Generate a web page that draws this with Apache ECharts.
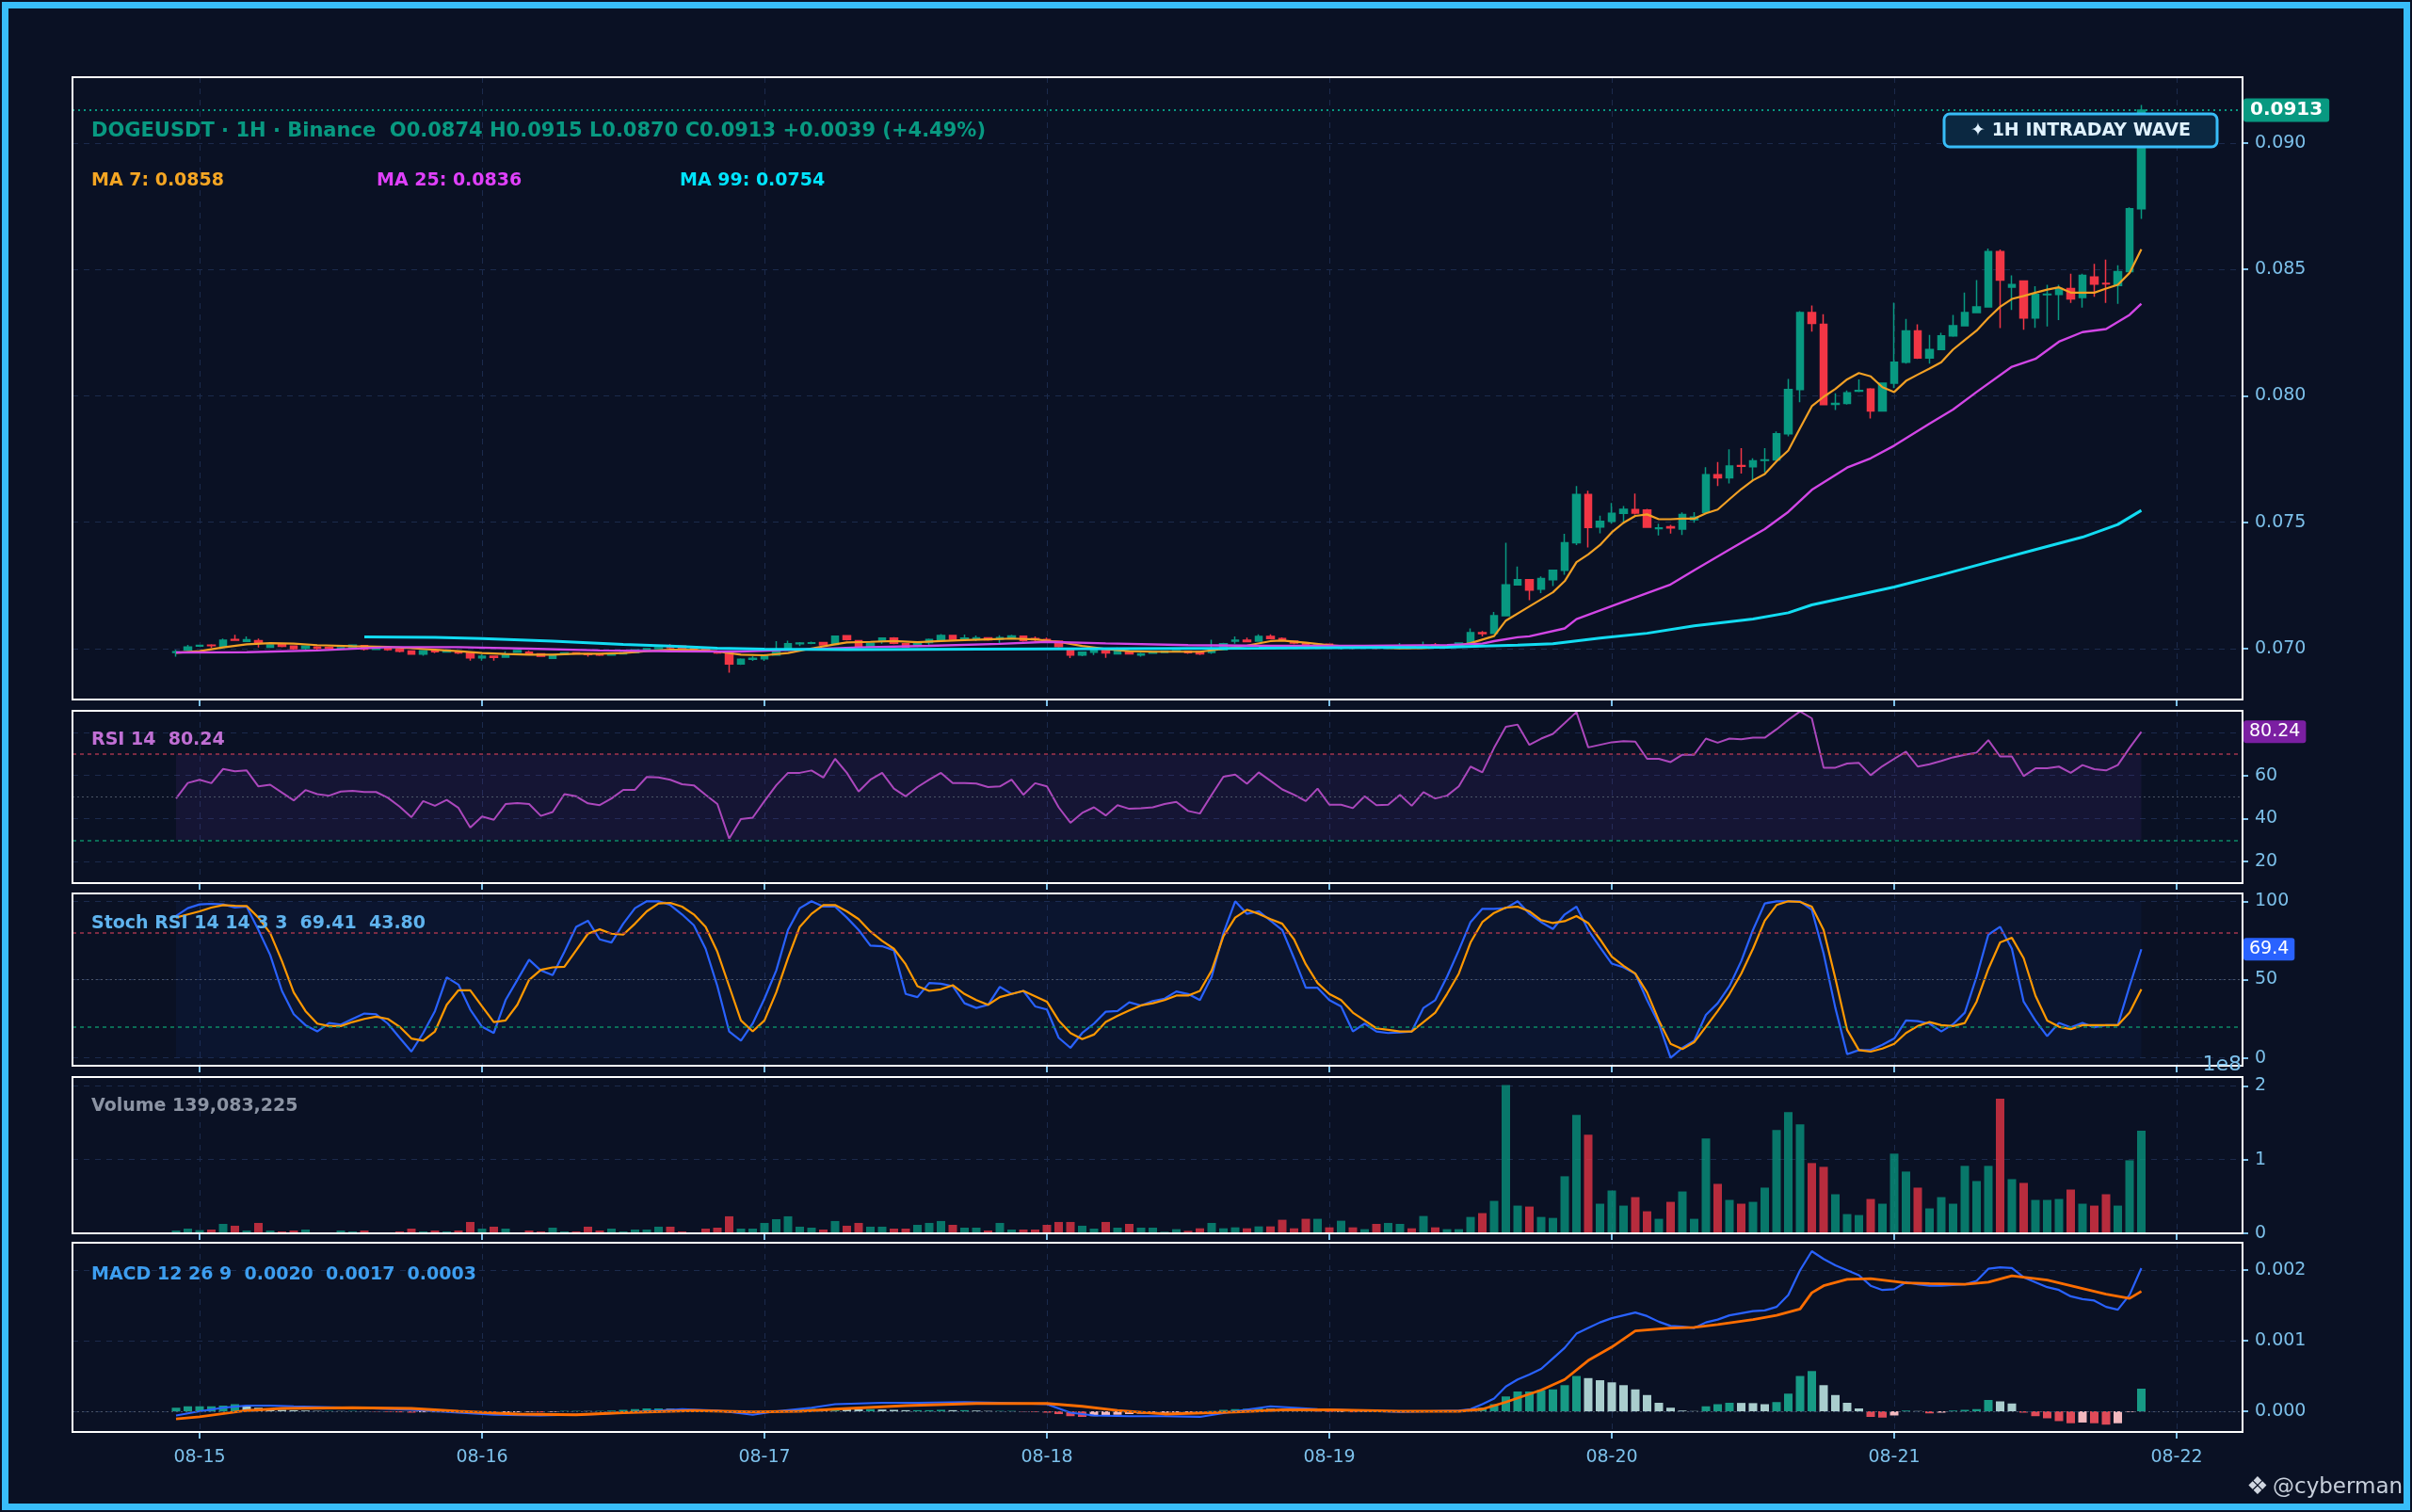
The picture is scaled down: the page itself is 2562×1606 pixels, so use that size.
<!DOCTYPE html>
<html><head><meta charset="utf-8">
<script src="https://cdn.jsdelivr.net/npm/echarts@6.0.0/dist/echarts.min.js"></script>
<style>html,body{margin:0;padding:0;background:#0a1124;}#c{width:2562px;height:1606px;}</style>
</head><body><div id="c"></div>
<script>
// ---------------- DATA ----------------
// hourly candles, first candle = 08-14 22:00 (hour -2 relative to 08-15 00:00)
const START_HOUR = -2;
const dayTicks = [0, 24, 48, 72, 96, 120, 144, 168];
const dayLabels = ['08-15','08-16','08-17','08-18','08-19','08-20','08-21','08-22'];
const priceTicks = [0.070, 0.075, 0.080, 0.085, 0.090];
const rsiTicks = [20, 40, 60, 80];
const stochTicks = [0, 50, 100];
const volTicks = [0, 1e8, 2e8];
const macdTicks = [0, 0.001, 0.002];

// [open, close, low, high]
const candles = [
[0.06985,0.06988,0.06968,0.06995],[0.06995,0.07007,0.06992,0.07015],[0.07010,0.07013,0.07008,0.07016],[0.07014,0.07012,0.07003,0.07018],
[0.07008,0.07034,0.07008,0.07040],[0.07036,0.07034,0.07033,0.07055],[0.07029,0.07035,0.07028,0.07048],[0.07032,0.07021,0.07005,0.07040],
[0.07006,0.07015,0.07003,0.07018],[0.07017,0.07009,0.07006,0.07020],[0.07010,0.07000,0.06996,0.07012],[0.07001,0.07010,0.06996,0.07012],
[0.07007,0.07002,0.06996,0.07010],[0.07005,0.07002,0.06998,0.07008],[0.07000,0.07004,0.06998,0.07007],[0.07003,0.07014,0.07000,0.07016],
[0.07012,0.06998,0.06993,0.07014],[0.06997,0.07001,0.06994,0.07004],[0.07001,0.06996,0.06992,0.07004],[0.06997,0.06990,0.06985,0.06999],
[0.06991,0.06979,0.06977,0.06993],[0.06979,0.06992,0.06972,0.06994],[0.06993,0.06988,0.06982,0.06996],[0.06987,0.06991,0.06984,0.06994],
[0.06990,0.06983,0.06979,0.06992],[0.06983,0.06964,0.06953,0.06985],[0.06964,0.06970,0.06953,0.06978],[0.06970,0.06966,0.06953,0.06972],
[0.06967,0.06976,0.06965,0.06990],[0.06986,0.06993,0.06984,0.06995],[0.06986,0.06980,0.06978,0.06992],[0.06980,0.06970,0.06968,0.06982],
[0.06962,0.06971,0.06959,0.06974],[0.06978,0.06983,0.06976,0.06985],[0.06983,0.06980,0.06977,0.06985],[0.06980,0.06977,0.06968,0.06983],
[0.06978,0.06975,0.06971,0.06981],[0.06975,0.06980,0.06973,0.06982],[0.06980,0.06984,0.06977,0.06986],[0.06984,0.06995,0.06982,0.06997],
[0.06995,0.07000,0.06993,0.07003],[0.07000,0.07004,0.06998,0.07007],[0.07007,0.07004,0.07000,0.07018],[0.07010,0.07002,0.06999,0.07012],
[0.07002,0.06998,0.06995,0.07004],[0.06998,0.06993,0.06990,0.07000],[0.06986,0.06983,0.06980,0.06990],[0.06983,0.06940,0.06905,0.06985],
[0.06940,0.06958,0.06936,0.06962],[0.06958,0.06962,0.06952,0.06970],[0.06960,0.06970,0.06952,0.06972],[0.06975,0.06990,0.06972,0.07030],
[0.06998,0.07020,0.06998,0.07032],[0.07020,0.07022,0.07010,0.07026],[0.07021,0.07023,0.07018,0.07028],[0.07024,0.07015,0.07012,0.07026],
[0.07017,0.07049,0.07015,0.07050],[0.07051,0.07036,0.07033,0.07054],[0.07032,0.07010,0.07005,0.07034],[0.07010,0.07021,0.07008,0.07024],
[0.07030,0.07042,0.07020,0.07045],[0.07042,0.07021,0.07018,0.07046],[0.07020,0.07007,0.07004,0.07022],[0.07010,0.07022,0.07007,0.07025],
[0.07024,0.07036,0.07012,0.07040],[0.07036,0.07052,0.07032,0.07058],[0.07052,0.07037,0.07035,0.07054],[0.07037,0.07042,0.07032,0.07056],
[0.07038,0.07043,0.07030,0.07052],[0.07043,0.07035,0.07032,0.07045],[0.07038,0.07044,0.07020,0.07053],[0.07044,0.07050,0.07040,0.07055],
[0.07049,0.07033,0.07028,0.07052],[0.07040,0.07035,0.07030,0.07048],[0.07036,0.07030,0.07028,0.07044],[0.07030,0.07008,0.07005,0.07033],
[0.07000,0.06975,0.06963,0.07002],[0.06975,0.06986,0.06970,0.06988],[0.06986,0.06998,0.06975,0.07000],[0.06995,0.06983,0.06964,0.06998],
[0.06980,0.06993,0.06978,0.07005],[0.06986,0.06980,0.06977,0.06988],[0.06975,0.06980,0.06968,0.06984],[0.06982,0.06988,0.06980,0.06990],
[0.06985,0.06990,0.06983,0.06992],[0.06988,0.06992,0.06985,0.06994],[0.06990,0.06984,0.06980,0.06993],[0.06988,0.06980,0.06975,0.06990],
[0.06985,0.06995,0.06980,0.07035],[0.06995,0.07020,0.06993,0.07023],[0.07030,0.07034,0.07020,0.07048],[0.07034,0.07028,0.07026,0.07044],
[0.07030,0.07048,0.07028,0.07057],[0.07048,0.07040,0.07038,0.07057],[0.07040,0.07034,0.07030,0.07045],[0.07030,0.07022,0.07018,0.07032],
[0.07022,0.07016,0.07012,0.07024],[0.07014,0.07018,0.07010,0.07021],[0.07018,0.07012,0.07008,0.07020],[0.07005,0.07010,0.06996,0.07012],
[0.07010,0.07003,0.06998,0.07012],[0.07003,0.07008,0.07000,0.07012],[0.07008,0.07002,0.06998,0.07010],[0.07002,0.07006,0.06999,0.07010],
[0.07004,0.07010,0.06998,0.07022],[0.07010,0.07005,0.07002,0.07013],[0.07004,0.07012,0.07000,0.07028],[0.07014,0.07008,0.07004,0.07022],
[0.07008,0.07012,0.07005,0.07015],[0.07012,0.07022,0.07010,0.07025],[0.07022,0.07063,0.07020,0.07080],[0.07063,0.07060,0.07048,0.07070],
[0.07061,0.07130,0.07058,0.07145],[0.07130,0.07252,0.07128,0.07419],[0.07252,0.07273,0.07250,0.07325],[0.07273,0.07232,0.07192,0.07275],
[0.07236,0.07277,0.07220,0.07286],[0.07273,0.07310,0.07248,0.07313],[0.07310,0.07419,0.07292,0.07454],[0.07419,0.07610,0.07410,0.07643],
[0.07610,0.07479,0.07400,0.07625],[0.07481,0.07504,0.07456,0.07526],[0.07504,0.07535,0.07494,0.07576],[0.07535,0.07551,0.07494,0.07564],
[0.07550,0.07536,0.07531,0.07613],[0.07548,0.07480,0.07478,0.07553],[0.07475,0.07478,0.07448,0.07494],[0.07482,0.07478,0.07455,0.07490],
[0.07473,0.07531,0.07450,0.07539],[0.07510,0.07520,0.07498,0.07540],[0.07539,0.07688,0.07535,0.07718],[0.07688,0.07676,0.07643,0.07738],
[0.07676,0.07722,0.07653,0.07788],[0.07724,0.07721,0.07693,0.07793],[0.07720,0.07743,0.07666,0.07753],[0.07745,0.07747,0.07697,0.07793],
[0.07747,0.07850,0.07743,0.07859],[0.07850,0.08025,0.07840,0.08067],[0.08025,0.08329,0.07975,0.08335],[0.08329,0.08286,0.08254,0.08357],
[0.08283,0.07965,0.07965,0.08323],[0.07966,0.07970,0.07944,0.08010],[0.07970,0.08012,0.07965,0.08021],[0.08018,0.08021,0.08015,0.08065],
[0.08027,0.07940,0.07910,0.08030],[0.07940,0.08050,0.07938,0.08052],[0.08050,0.08133,0.08030,0.08368],[0.08133,0.08257,0.08127,0.08304],
[0.08257,0.08150,0.08146,0.08283],[0.08150,0.08183,0.08127,0.08241],[0.08183,0.08237,0.08180,0.08249],[0.08237,0.08277,0.08233,0.08320],
[0.08277,0.08329,0.08277,0.08408],[0.08329,0.08352,0.08327,0.08458],[0.08352,0.08570,0.08349,0.08582],[0.08570,0.08458,0.08268,0.08579],
[0.08430,0.08440,0.08339,0.08476],[0.08454,0.08308,0.08261,0.08454],[0.08308,0.08401,0.08269,0.08433],[0.08400,0.08402,0.08274,0.08439],
[0.08401,0.08424,0.08299,0.08439],[0.08424,0.08383,0.08367,0.08483],[0.08389,0.08476,0.08349,0.08483],[0.08470,0.08442,0.08392,0.08522],
[0.08445,0.08443,0.08367,0.08539],[0.08436,0.08491,0.08364,0.08516],[0.08491,0.08740,0.08491,0.08745],[0.08740,0.09130,0.08700,0.09150]
];

// volume in millions (hourly, same order as candles)
const volumeM = [
3.8,6.4,4.3,5.1,12.8,10.3,3.8,14.1,3.8,2.6,3.8,5.1,1.3,1.3,3.8,2.6,3.8,1.3,1.3,2.6,6.4,2.6,3.8,2.6,3.8,15.4,6.4,9.0,6.4,1.3,
3.8,2.6,7.7,2.6,2.6,9.0,3.8,6.4,2.6,5.1,5.1,9.0,9.0,2.6,1.3,6.4,7.7,23.1,6.4,6.4,14.1,19.2,23.1,9.0,7.7,5.1,16.7,10.3,14.1,9.0,
9.0,6.4,6.4,11.5,14.1,16.7,11.5,7.7,7.7,3.8,14.1,5.1,5.1,5.1,11.5,15.4,15.4,10.3,6.4,15.4,7.7,12.8,7.7,7.7,
2.1,5.6,3.4,6.8,14.1,6.8,8.1,6.8,9.4,9.4,18.4,6.8,19.7,19.7,8.1,17.1,8.1,5.6,12.8,14.1,12.8,6.8,23.5,8.1,5.6,5.6,
22.2,27.4,44.0,201.3,37.6,36.3,22.2,20.9,77.4,160.7,133.8,40.2,58.1,37.6,49.1,29.9,19.7,42.7,56.8,19.7,
128.6,67.1,45.3,40.2,42.7,62.0,140.2,164.5,147.9,95.3,90.2,53.0,26.1,24.8,46.6,40.2,108.1,83.8,62.0,33.8,
49.1,40.2,91.5,70.9,91.5,182.5,73.5,68.4,45.3,45.3,46.6,59.4,40.2,37.6,53.0,37.6,99.1,139.083225
];

// moving averages as [hour, value] vertices
const ma7 = [[-2,.06984],[0,.0699],[2,.07005],[4,.07017],[6,.07022],[8,.0702],[10,.07014],[13,.0701],[16,.07007],[18,.07002],[20,.06996],[22,.0699],[24,.06983],[26,.06979],[28,.06976],[30,.06976],[32,.0698],[34,.0698],[36,.06983],[38,.0699],[40,.06996],[42,.06995],[44,.06989],[46,.06976],[48,.06974],[50,.06983],[52,.07001],[54,.07017],[55,.07025],[57,.07027],[59,.0703],[61,.07026],[63,.0703],[65,.07034],[67,.07037],[69,.0704],[71,.07037],[73,.07027],[75,.07011],[77,.06999],[79,.0699],[81,.06988],[83,.06988],[85,.06988],[87,.06999],[89,.07012],[91,.0703],[92,.07032],[94,.07024],[96,.07014],[98,.07007],[100,.07005],[102,.07001],[104,.07002],[106,.07007],[107,.07013],[108,.07022],[109,.07036],[110,.0705],[111,.07111],[113,.07167],[115,.07223],[116,.07267],[117,.07342],[118,.07373],[119,.0741],[120,.0746],[121,.07498],[122,.07525],[123,.07531],[124,.07512],[125,.07512],[126,.07514],[127,.07514],[128,.07535],[129,.0755],[130,.07591],[131,.07631],[132,.07666],[133,.07691],[134,.07741],[135,.07784],[136,.07872],[137,.07959],[138,.07996],[139,.08027],[140,.08065],[141,.0809],[142,.08077],[143,.08034],[144,.08015],[145,.08059],[146,.08084],[147,.08108],[148,.08133],[149,.08183],[150,.08221],[151,.08258],[152,.08308],[153,.08352],[154,.08383],[155,.08395],[156,.08408],[157,.0842],[158,.08429],[159,.08408],[160,.08408],[161,.08408],[162,.08424],[163,.08439],[164,.08486],[165,.0858]];
const ma25 = [[-2,.06985],[4,.06986],[10,.06993],[16,.07006],[22,.07006],[28,.07],[34,.06993],[40,.0699],[46,.06989],[50,.06995],[56,.07005],[62,.07011],[68,.07019],[72,.07027],[77,.07021],[84,.07014],[91,.07011],[99,.07011],[106,.07014],[109,.0702],[110,.0703],[112,.07045],[113,.07049],[116,.0708],[117,.07117],[121,.07186],[125,.07254],[127,.0731],[130,.07392],[133,.07473],[135,.07541],[137,.07628],[140,.07716],[142,.07753],[144,.07803],[147,.0789],[149,.07946],[151,.08015],[154,.08115],[156,.08146],[158,.08214],[160,.08252],[162,.08264],[164,.0832],[165,.08364]];
const ma99 = [[14,.07047],[20,.07045],[24,.0704],[30,.0703],[36,.07017],[40,.0701],[44,.07002],[48,.06998],[55,.06996],[72,.06999],[90,.07002],[100,.07005],[106,.07006],[109,.0701],[112,.07014],[115,.0702],[119,.07042],[123,.07061],[127,.0709],[132,.07117],[135,.07142],[137,.07173],[144,.07244],[148,.07292],[152,.07342],[156,.07392],[160,.07441],[163,.07491],[165,.07547]];

// RSI 14 (hourly)
const rsi = [49.3,56.5,58,56.4,63,61.9,62.3,54.9,55.7,52,48.4,53.2,51.3,50.6,52.5,52.8,52.3,52.3,49.6,45.5,40.6,48.1,45.9,48.6,44.9,35.8,40.9,39.4,46.7,47.2,46.7,41.2,43,51.3,50.3,47,46.2,49.3,53.3,53.3,59.3,59.1,58,55.9,55.4,51,46.7,30.7,39.7,40.4,48.1,55.4,61.2,61.2,62.3,59,67.7,61.2,52.5,58,61.2,53.9,50.3,54.6,58,61.2,56.4,56.5,56.2,54.6,54.9,58,51,56.4,54.9,45.2,38,42.6,45.2,41.4,46.2,44.5,44.8,45.2,
46.7,47.7,43.5,42.3,51,59.4,60.4,56.1,61.4,57.5,53.5,51,48.1,53.9,46.4,46.4,44.8,50.3,46.2,46.4,51,45.9,52.2,49.3,50.6,54.9,64.1,61.4,72.8,82.6,83.6,74.2,77.1,79.3,84.3,89.4,73,74.2,75.4,75.9,75.7,67.7,67.7,66.2,69.6,69.6,77.1,75.2,77.1,76.8,77.5,77.5,81.4,85.8,89.7,86.5,63.6,63.6,65.5,65.8,60.1,64.3,67.7,71,64.1,65.2,66.7,68.4,69.6,70.6,76.4,68.8,68.8,59.7,63.3,63.3,64.1,61.2,64.8,62.9,62.3,64.8,72.8,80.24];

// Stoch RSI 14 14 3 3  (K and D, hourly)
const stochK = [90.6,95.6,98,98.4,98,96,96.6,81.7,65.7,42.8,27.9,20.9,16.9,22.3,21.3,24.9,28.3,27.9,21.9,12.9,4,15.9,29.9,51.4,46.8,30.9,19.9,15.9,36.9,49.8,62.7,55.8,52.8,67.7,83.7,87.6,75.7,73.7,85.7,95.6,100,100,97.6,91.6,84.7,69.7,45.8,16.9,11,21.9,37.8,55.8,81.7,95.6,100,96.6,96.6,89.6,81.7,71.7,71.3,68.7,40.8,38.8,47.8,47.4,45.8,34.9,31.9,33.9,45.4,40.8,42.8,32.9,30.9,12.9,6.4,15.9,21.9,29.5,29.9,35.5,33.5,36.3,
37.8,42.4,40.8,36.9,51.8,79.7,100,92,93.6,87.6,81.7,63.7,44.8,44.8,36.9,32.9,16.9,21.9,16.9,15.9,16.3,16.9,31.9,36.9,51.8,68.7,86.7,95.2,95.2,95.6,100,92,86.7,82.3,91.6,96.6,81.7,70.7,60.2,57.8,53.8,36.9,21.9,0,6.4,11,27.5,34.9,45.8,61.8,81.7,98.6,100,100,100,94.6,66.7,31.9,2.4,5,5,8.4,12.4,23.9,23.5,21.9,16.9,21.5,28.9,51.8,78.7,83.7,69.7,35.9,23.9,13.9,22.3,19.5,22.3,19.5,20.9,20.9,45.8,69.41];
const stochD = [89.6,91.6,93.6,96,97.6,97.2,97,89.6,79.7,61.8,41.8,29.9,21.9,20.3,20.3,22.9,24.9,26.3,24.9,19.9,12.4,11,16.9,33.9,43.2,43.2,32.9,22.9,23.9,33.9,49.8,56.2,57.8,58.2,68.7,79.3,82.1,79.3,78.7,85.7,93.6,98.6,99,96.6,91.6,83.7,67.7,45.8,23.9,16.9,23.9,41.8,63.7,83.7,92,97.6,97.6,93.6,88.6,80.7,74.7,69.7,59.8,45.8,42.8,43.8,46.4,40.8,36.9,33.9,38.8,40.8,42.8,39.4,35.9,23.9,15.9,12,14.9,22.9,26.9,30.3,33.5,34.9,
36.9,39.8,39.8,42.8,55.8,77.7,89.6,94.6,92,88.6,85.7,75.7,59.8,47.8,40.8,36.9,28.9,23.9,18.9,17.9,16.9,16.9,22.9,28.9,40.8,53.8,73.7,86.7,92.6,96,96.6,93.6,88,86.1,87.3,90.6,86.1,75.7,64.7,58.8,53.8,41.8,23.9,9,5.6,10,19.9,29.9,40.8,53.8,69.7,87.6,97.6,100,99.6,96.6,81.7,50.8,17.9,5,4,6,9,15.9,20.3,22.9,20.9,20.3,22.3,35.9,56.8,73.7,76.7,63.7,39.8,23.9,19.9,18.3,20.9,20.9,20.9,20.9,28.9,43.80];

// MACD 12 26 9 : line and signal as [hour, value] vertices, histogram hourly (x1e-5)
const macdLine = [[-2,-0.00006],[0,0],[2,0.00005],[4,0.00008],[6,0.00008],[8,0.00007],[13,0.00005],[18,0.00002],[22,-0.00002],[25,-0.00005],[29,-0.00006],[34,-0.00004],[38,0],[41,0.00003],[44,0.00001],[46,-0.00003],[47,-0.00005],[49,0],[52,0.00005],[54,0.0001],[58,0.00012],[61,0.00012],[65,0.00013],[68,0.00012],[72,0.0001],[73,0.00004],[74,-0.00002],[76,-0.00006],[79,-0.00007],[82,-0.00007],[85,-0.00008],[88,0],[91,0.00007],[95,0.00003],[102,-0.00001],[107,0.00001],[108,0.00003],[109,0.0001],[110,0.00018],[111,0.00035],[112,0.00045],[113,0.00052],[114,0.0006],[115,0.00075],[116,0.0009],[117,0.0011],[118,0.00118],[119,0.00126],[120,0.00132],[121,0.00136],[122,0.0014],[123,0.00135],[124,0.00127],[125,0.00121],[126,0.0012],[127,0.00118],[128,0.00126],[129,0.0013],[130,0.00136],[131,0.00139],[132,0.00142],[133,0.00143],[134,0.00148],[135,0.00165],[136,0.002],[137,0.00227],[138,0.00216],[139,0.00207],[140,0.002],[141,0.00193],[142,0.00178],[143,0.00172],[144,0.00173],[145,0.00183],[146,0.0018],[147,0.00178],[148,0.00178],[149,0.00179],[150,0.0018],[151,0.00185],[152,0.00202],[153,0.00204],[154,0.00203],[155,0.0019],[156,0.00183],[157,0.00176],[158,0.00172],[159,0.00163],[160,0.00159],[161,0.00157],[162,0.00148],[163,0.00144],[164,0.00165],[165,0.00203]];
const macdSignal = [[-2,-0.00011],[0,-0.00008],[4,0.00001],[7,0.00004],[13,0.00005],[18,0.00004],[22,0],[27,-0.00004],[32,-0.00005],[36,-0.00002],[42,0.00001],[47,-0.00001],[51,0],[54,0.00003],[60,0.00008],[66,0.00011],[72,0.00011],[75,0.00007],[78,0.00001],[82,-0.00004],[88,-0.00001],[92,0.00002],[96,0.00002],[102,0],[107,0],[109,0.00003],[111,0.00013],[114,0.0003],[116,0.00045],[118,0.00072],[120,0.00091],[122,0.00114],[125,0.00118],[127,0.00119],[129,0.00123],[132,0.0013],[134,0.00136],[136,0.00145],[137,0.00168],[138,0.00178],[140,0.00187],[142,0.00188],[145,0.00182],[147,0.00181],[150,0.0018],[152,0.00183],[154,0.00192],[157,0.00186],[159,0.00178],[162,0.00166],[164,0.0016],[165,0.0017]];
const macdHistE5 = [5,7,7,7,8,10,8,5,4,2,1.5,1,0.5,0.5,0.3,0.5,0.2,-0.5,-1,-1.5,-2,-1.5,-1.5,-1,-1.5,-2.5,-2,-2.5,-2,-1.5,-1,-1.5,-1,0.5,0.5,0.3,0.5,1,2,3,4,4,3.5,3,2,1,0.5,-2,-3,-2.5,-1.5,0.5,2,3,3.5,3,4,3.5,3,3,2.5,2,1.5,1.5,1.5,2,1.5,1.5,1,0.5,0.5,0.5,-0.5,-1,-2,-4,-7,-8,-7,-6,-5,-4,-3.5,-3,-2.5,-2,-1.5,-1,0.5,2,3,3.5,4,3.5,2.5,1.5,0.5,-0.5,-1,-1,-1.5,-1,-1,-0.5,-0.5,-0.3,0.3,0.2,0.3,1,
2,5,10,21,28,28,30,31,37,50,47,44,41,37,31,23,12,5,1,0.3,7,10,12,11.8,11.5,10,13,25,50,57,37,23,12,4,-8,-9,-6,1,0.3,-3,-2,1,2,3,16,14,11,-2,-7,-10,-14,-17,-16,-17,-19,-17,-1,32];

const headerText = 'DOGEUSDT · 1H · Binance  O0.0874 H0.0915 L0.0870 C0.0913 +0.0039 (+4.49%)';
const maLabels = ['MA 7: 0.0858', 'MA 25: 0.0836', 'MA 99: 0.0754'];
const lastClose = 0.0913, lastRsi = 80.24, lastStochK = 69.41;

// ---------------- STYLE ----------------
const UP = '#089981', DOWN = '#f23645';
const LBLUE = '#7cc0ea', GRIDC = '#1b2a4c', BG = '#0a1124';
const FONT = '"DejaVu Sans", Verdana, sans-serif';
const X_MIN = -10.8, X_MAX = 173.6;
const L = 77, WID = 2305;
const panels = [
  {top: 82, height: 661, min: 0.06799, max: 0.09260, ticks: priceTicks, fmt: v => v.toFixed(3)},
  {top: 755, height: 183, min: 10, max: 90, ticks: rsiTicks, fmt: v => String(v)},
  {top: 949, height: 183, min: -5, max: 105, ticks: stochTicks, fmt: v => String(v)},
  {top: 1144, height: 166, min: 0, max: 2.12e8, ticks: volTicks, fmt: v => String(Math.round(v / 1e8))},
  {top: 1320, height: 201, min: -0.000294, max: 0.00239, ticks: macdTicks, fmt: v => v.toFixed(3)}
];

const hourOf = i => START_HOUR + i;
const isUp = c => c[1] >= c[0];

const grid = panels.map(p => ({left: L, top: p.top, width: WID, height: p.height, show: false, containLabel: false}));
const xAxis = panels.map((p, i) => ({
  type: 'value', gridIndex: i, min: X_MIN, max: X_MAX, position: 'bottom',
  axisLine: {show: false, onZero: false},
  axisTick: {show: true, customValues: dayTicks, length: 7, lineStyle: {color: LBLUE, width: 2}},
  axisLabel: {show: i === 4, customValues: dayTicks, color: LBLUE, fontSize: 19, fontFamily: FONT, margin: 18,
    formatter: v => dayLabels[dayTicks.indexOf(Math.round(v))] || ''},
  splitLine: {show: true, lineStyle: {color: GRIDC, type: [6, 6], width: 1}}
}));
const yAxis = panels.map((p, i) => ({
  type: 'value', gridIndex: i, position: 'right', min: p.min, max: p.max,
  axisLine: {show: false, onZero: false},
  axisTick: {show: true, customValues: p.ticks, length: 6, lineStyle: {color: LBLUE, width: 2}},
  axisLabel: {show: true, customValues: p.ticks, color: LBLUE, fontSize: 19, fontFamily: FONT, margin: 13, formatter: p.fmt},
  splitLine: {show: true, lineStyle: {color: GRIDC, type: [6, 6], width: 1}}
}));

function hLine(y, color, type, width) {
  return {yAxis: y, lineStyle: {color: color, type: type, width: width || 1.5}, label: {show: false}};
}
function tagLine(y, text, bg) {
  return {yAxis: y, lineStyle: {color: 'rgba(0,0,0,0)', width: 0, opacity: 1}, label: {show: true, position: 'end', distance: 1, formatter: text,
    backgroundColor: bg, color: '#ffffff', opacity: 1, fontSize: 19, fontFamily: FONT,
    padding: [3, 6, 2, 6], borderRadius: 3}};
}

const candleData = candles.map((c, i) => [hourOf(i), c[0], c[1], c[2], c[3]]);
const volData = volumeM.map((v, i) => ({value: [hourOf(i), v * 1e6],
  itemStyle: {color: isUp(candles[i]) ? 'rgba(8,153,129,0.75)' : 'rgba(242,54,69,0.75)'}}));
const histData = macdHistE5.map((v, i) => {
  const p = i > 0 ? macdHistE5[i - 1] : 0;
  let col;
  if (v >= 0) col = v >= p ? '#179a85' : '#a9cdcd'; else col = v < p ? '#e04a58' : '#f2b8be';
  return {value: [hourOf(i), v * 1e-5], itemStyle: {color: col}};
});
const lastH = hourOf(candles.length - 1), firstH = hourOf(0);

const series = [
  {type: 'candlestick', name: 'DOGEUSDT', xAxisIndex: 0, yAxisIndex: 0, data: candleData, encode: {x: 0, y: [1, 2, 3, 4]},
    barWidth: 8, itemStyle: {color: UP, color0: DOWN, borderColor: UP, borderColor0: DOWN, borderWidth: 1.5},
    markLine: {symbol: 'none', silent: true, animation: false, precision: 6, data: [
      {yAxis: lastClose, lineStyle: {color: UP, type: [2, 4], width: 2},
        label: {show: true, position: 'end', distance: 1, formatter: lastClose.toFixed(4), backgroundColor: UP, color: '#ffffff',
          fontSize: 20, fontWeight: 'bold', fontFamily: FONT, padding: [3, 7, 2, 7], borderRadius: 3}}]}},
  {type: 'line', name: 'MA7', xAxisIndex: 0, yAxisIndex: 0, data: ma7, symbol: 'none', lineStyle: {color: '#f2a024', width: 2.2}, z: 3},
  {type: 'line', name: 'MA25', xAxisIndex: 0, yAxisIndex: 0, data: ma25, symbol: 'none', lineStyle: {color: '#d246e6', width: 2.4}, z: 3},
  {type: 'line', name: 'MA99', xAxisIndex: 0, yAxisIndex: 0, data: ma99, symbol: 'none', lineStyle: {color: '#12dcf2', width: 3}, z: 3},

  {type: 'line', name: 'RSI', xAxisIndex: 1, yAxisIndex: 1, data: rsi.map((v, i) => [hourOf(i), v]), symbol: 'none',
    lineStyle: {color: '#ab47bc', width: 2},
    markArea: {silent: true, data: [[{xAxis: firstH, yAxis: 30}, {xAxis: lastH, yAxis: 70}]], itemStyle: {color: 'rgba(126,60,200,0.10)'}},
    markLine: {symbol: 'none', silent: true, animation: false, precision: 6, data: [
      hLine(70, '#a3344c', [4, 4]), hLine(30, '#0d8a66', [4, 4]), hLine(50, '#4b5567', [2, 3], 1.2),
      tagLine(lastRsi, lastRsi.toFixed(2), '#7b1fa2')]}},

  {type: 'line', name: 'StochK', xAxisIndex: 2, yAxisIndex: 2, data: stochK.map((v, i) => [hourOf(i), v]), symbol: 'none',
    lineStyle: {color: '#2962ff', width: 2.2}, z: 3,
    markArea: {silent: true, data: [[{xAxis: firstH, yAxis: 0}, {xAxis: lastH, yAxis: 100}]], itemStyle: {color: 'rgba(41,98,255,0.05)'}},
    markLine: {symbol: 'none', silent: true, animation: false, precision: 6, data: [
      hLine(80, '#a3344c', [4, 4]), hLine(20, '#0d8a66', [4, 4]), hLine(50, '#4b5567', [2, 3], 1.2),
      tagLine(lastStochK, lastStochK.toFixed(1), '#2962ff')]}},
  {type: 'line', name: 'StochD', xAxisIndex: 2, yAxisIndex: 2, data: stochD.map((v, i) => [hourOf(i), v]), symbol: 'none',
    lineStyle: {color: '#ff9800', width: 2.2}, z: 4},

  {type: 'bar', name: 'Volume', xAxisIndex: 3, yAxisIndex: 3, data: volData, barWidth: 9},

  {type: 'bar', name: 'Hist', xAxisIndex: 4, yAxisIndex: 4, data: histData, barWidth: 9,
    markLine: {symbol: 'none', silent: true, animation: false, precision: 6, data: [hLine(0, '#4b5567', [2, 3], 1.2)]}},
  {type: 'line', name: 'MACD', xAxisIndex: 4, yAxisIndex: 4, data: macdLine, symbol: 'none', lineStyle: {color: '#2962ff', width: 2.2}, z: 3},
  {type: 'line', name: 'Signal', xAxisIndex: 4, yAxisIndex: 4, data: macdSignal, symbol: 'none', lineStyle: {color: '#ff6d00', width: 2.8}, z: 4}
];

function txt(x, y, text, fill, font, align) {
  return {type: 'text', x: x, y: y, z: 100, silent: true,
    style: {text: text, fill: fill, font: font, textAlign: align || 'left', textVerticalAlign: 'middle', align: align || 'left', verticalAlign: 'middle'}};
}
// white panel frames drawn on top of the grid lines
const frames = panels.map(p => ({type: 'rect', z: 90, silent: true, shape: {x: L, y: p.top, width: WID, height: p.height},
  style: {fill: 'none', stroke: '#ffffff', lineWidth: 2}}));
const graphic = frames.concat([
  txt(97, 140, headerText, '#089981', 'bold 21px ' + FONT),
  txt(97, 192, maLabels[0], '#f5a623', 'bold 19px ' + FONT),
  txt(400, 192, maLabels[1], '#e040fb', 'bold 19px ' + FONT),
  txt(722, 192, maLabels[2], '#00e5ff', 'bold 19px ' + FONT),
  txt(97, 786, 'RSI 14  80.24', '#c06fd4', 'bold 19px ' + FONT),
  txt(97, 981, 'Stoch RSI 14 14 3 3  69.41  43.80', '#5fb3ee', 'bold 19px ' + FONT),
  txt(97, 1175, 'Volume 139,083,225', '#8b93a3', 'bold 19px ' + FONT),
  txt(97, 1354, 'MACD 12 26 9  0.0020  0.0017  0.0003', '#3d9ef0', 'bold 19px ' + FONT),
  {type: 'rect', z: 99, silent: true, shape: {x: 2065, y: 121, width: 290, height: 35, r: 6},
    style: {fill: '#0b2841', stroke: '#38bdf8', lineWidth: 3}},
  txt(2210, 139, '✦ 1H INTRADAY WAVE', '#e0f2fe', 'bold 19px ' + FONT, 'center'),
  txt(2381, 1131, '1e8', LBLUE, '22px ' + FONT, 'right'),
  txt(2398, 1580, '❖', '#d0d6e0', '26px ' + FONT, 'center'),
  txt(2414, 1580, '@cyberman', '#c8d0dc', '23px ' + FONT),
  {type: 'rect', z: 120, silent: true, shape: {x: 5.5, y: 5.5, width: 2551, height: 1595},
    style: {fill: 'none', stroke: '#38bdf8', lineWidth: 7}}
]);

const chart = echarts.init(document.getElementById('c'), null, {renderer: 'canvas'});
chart.setOption({
  backgroundColor: BG, animation: false,
  grid: grid, xAxis: xAxis, yAxis: yAxis, series: series, graphic: graphic
});
</script></body></html>
